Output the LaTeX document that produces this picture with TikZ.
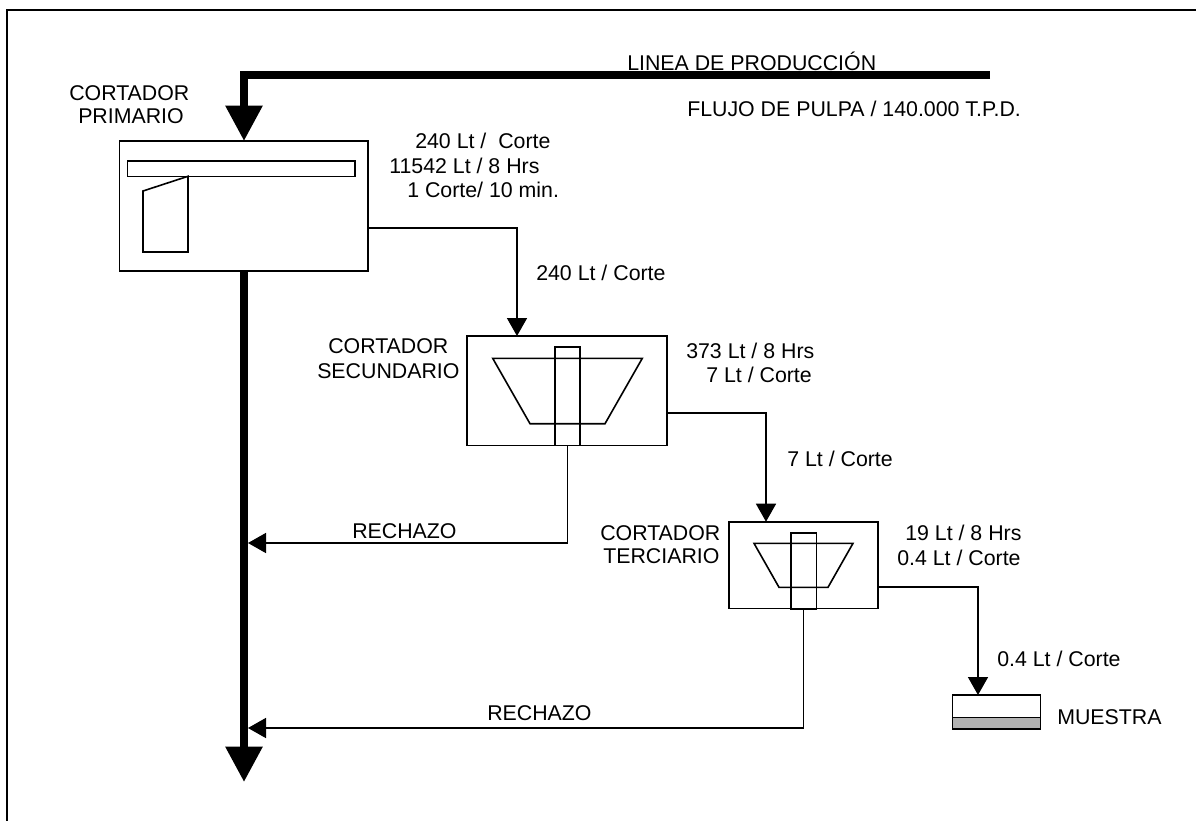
\documentclass[tikz,border=0pt]{standalone}
\usepackage{fontspec}
\setmainfont{Liberation Sans}
\usetikzlibrary{arrows.meta,calc}
\tikzset{
  box/.style={draw,line width=1.2,rectangle,inner sep=0,outer sep=0,anchor=north west},
  pieza/.style={draw,line width=1.2},
  flujo/.style={line width=1.2,-{Triangle[length=13.5pt,width=15pt]}},
  grueso/.style={line width=5.8,-{Triangle[length=26.5pt,width=26.5pt]}},
  txt/.style={font=\fontsize{16}{19}\selectfont,inner sep=0,anchor=base west},
}
\begin{document}
\begin{tikzpicture}[x=0.75pt,y=-0.75pt]
\useasboundingbox (0,0) rectangle (1196,821);
% ---------- marco: solo arriba e izquierda ----------
\coordinate (marcoA) at (1196,10);
\coordinate (marcoB) at (7,10);
\coordinate (marcoC) at (7,821);
\draw[line width=1.4] (marcoA) -- (marcoB) -- (marcoC);
% ---------- cortador primario ----------
\node[box,minimum width=186.5pt,minimum height=97.5pt] (prim) at (119.5,141) {};
\node[box,minimum width=170.5pt,minimum height=11.5pt] (ranura) at (127.5,161) {};
\draw[pieza] (188,176.3) -- (143,191) -- (143,252) -- (188,252) -- cycle;
% ---------- cortador secundario ----------
\node[box,minimum width=150pt,minimum height=82pt] (secu) at (467,336) {};
\node[box,minimum width=18.75pt,minimum height=74pt] (tuboA) at (555,347) {};
\draw[pieza] (492.7,358.3) -- (642.3,358.3) -- (605,423.7) -- (530,423.7) -- cycle;
% ---------- cortador terciario ----------
\node[box,minimum width=111.75pt,minimum height=65pt] (terc) at (729,521.7) {};
\node[box,minimum width=19pt,minimum height=57pt] (tuboB) at (791,532.7) {};
\draw[pieza] (754,543.3) -- (853,543.3) -- (828,587.3) -- (779,587.3) -- cycle;
% ---------- muestra ----------
\node[box,minimum width=66pt,minimum height=25pt] (muestra) at (952.5,695) {};
\node[box,fill=black!30,minimum width=66pt,minimum height=8.5pt] (fondo) at (952.5,717.5) {};
% ---------- linea de produccion ----------
\coordinate (inicio) at (990,75);
\coordinate (codo) at (244,75);
\coordinate (bajada) at (244,782);
\draw[line width=5.8] (inicio) -- (codo) -- ++(0,35);
\draw[grueso] (codo) -- (prim.north -| codo);
\draw[grueso] (prim.south -| codo) -- (bajada);
% ---------- conexiones ----------
\coordinate (salPrim) at (prim.east |- 0,227.7);
\coordinate (salSecu) at (secu.east |- 0,413);
\coordinate (salTerc) at (terc.east |- 0,587);
\coordinate (entSecu) at (517,336);
\coordinate (entTerc) at (766,521.7);
\coordinate (entMuestra) at (978,695);
\draw[flujo] (salPrim) -| (entSecu);
\draw[flujo] (salSecu) -| (entTerc);
\draw[flujo] (salTerc) -| (entMuestra);
\coordinate (recA) at (248,543);
\coordinate (recB) at (248,728);
\draw[flujo] (tuboA.south) |- (recA);
\draw[flujo] (tuboB.south) |- (recB);
% ---------- textos ----------
\node[txt] (tLinea) at (627,70) {LINEA DE PRODUCCIÓN};
\node[txt] (tFlujo) at (687,116) {FLUJO DE PULPA / 140.000 T.P.D.};
\node[txt] (tPrimA) at (69,100) {CORTADOR};
\node[txt] (tPrimB) at (78,123) {PRIMARIO};
\node[txt] (tA) at (415,148) {240 Lt /\ \ Corte};
\node[txt] (tB) at (389,173) {11542 Lt / 8 Hrs};
\node[txt] (tC) at (407,197) {1 Corte/ 10 min.};
\node[txt] (tD) at (536,280) {240 Lt / Corte};
\node[txt] (tSecuA) at (328,353) {CORTADOR};
\node[txt] (tSecuB) at (317,378) {SECUNDARIO};
\node[txt] (tE) at (686,358) {373 Lt / 8 Hrs};
\node[txt] (tF) at (706,382) {7 Lt / Corte};
\node[txt] (tG) at (787,466) {7 Lt / Corte};
\node[txt] (tRecA) at (352,538) {RECHAZO};
\node[txt] (tTercA) at (600,540) {CORTADOR};
\node[txt] (tTercB) at (603,563) {TERCIARIO};
\node[txt] (tH) at (905,540) {19 Lt / 8 Hrs};
\node[txt] (tI) at (897,565) {0.4 Lt / Corte};
\node[txt] (tJ) at (997,666) {0.4 Lt / Corte};
\node[txt] (tRecB) at (487,720) {RECHAZO};
\node[txt] (tMuestra) at (1057,724) {MUESTRA};
\end{tikzpicture}
\end{document}
